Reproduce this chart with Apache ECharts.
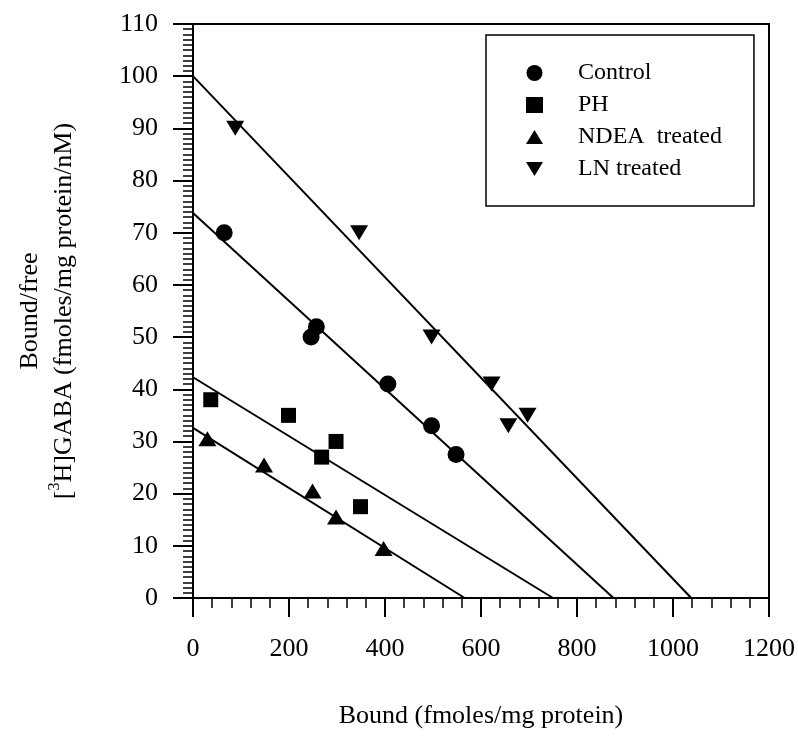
<!DOCTYPE html>
<html><head><meta charset="utf-8">
<script src="https://cdn.jsdelivr.net/npm/echarts@6/dist/echarts.min.js"></script>
<style>html,body{margin:0;padding:0;background:#fff}#c{width:798px;height:740px}</style>
</head><body><div id="c"></div>
<script>
// Tick settings
const xMin = 0, xMax = 1200, xStep = 200;
const yMin = 0, yMax = 110, yStep = 10;

// Scatter data [Bound, Bound/free]
const controlData = [[65,70],[246,50],[257,52],[406,41],[497,33],[548,27.5]];
const phData = [[37,38],[199,35],[298,30],[268,27],[349,17.5]];
const ndeaData = [[30,30.5],[148,25.5],[249,20.5],[298,15.5],[397,9.5]];
const lnData = [[88,90],[346,70],[497,50],[622,41],[657,33],[697,35]];

// Fitted regression lines (end points)
const controlFit = [[0,73.8],[876,0]];
const phFit = [[0,42.3],[750,0]];
const ndeaFit = [[0,32.6],[566,0]];
const lnFit = [[0,100],[1038,0]];

const seriesNames = ['Control','PH','NDEA  treated','LN treated'];

const FONT = '"Liberation Serif", "Times New Roman", serif';
const DOWN_TRI = 'path://M0,0 L18,0 L9,15 Z';
const UP_TRI = 'path://M9,0 L18,15 L0,15 Z';
const chart = echarts.init(document.getElementById('c'), null, {renderer:'canvas'});

function fitLine(data){
  return {type:'line', data:data, symbol:'none', silent:true,
    lineStyle:{color:'#000', width:2}, z:1};
}

chart.setOption({
  animation:false,
  backgroundColor:'#fff',
  grid:{left:193, right:29, top:24, bottom:142, show:true, borderColor:'#000', borderWidth:2, backgroundColor:'transparent'},
  legend:{
    data:[
      {name:seriesNames[0], icon:'circle'},
      {name:seriesNames[1], icon:'rect'},
      {name:seriesNames[2], icon:UP_TRI},
      {name:seriesNames[3], icon:DOWN_TRI}
    ],
    orient:'vertical', left:486, top:35,
    padding:[26,32,25,40],
    itemWidth:17, itemHeight:16, itemGap:8,
    borderColor:'#000', borderWidth:1.5,
    formatter: function(n){ return '{n|' + n + '}'; },
    textStyle:{fontFamily:FONT, fontSize:24, color:'#000', lineHeight:24,
      rich:{n:{fontFamily:FONT, fontSize:24, color:'#000', lineHeight:24, padding:[0,0,0,30]}}},
    selectedMode:false
  },
  xAxis:{
    type:'value', min:xMin, max:xMax, interval:xStep,
    name:'Bound (fmoles/mg protein)', nameLocation:'middle', nameGap:105,
    nameTextStyle:{fontFamily:FONT, fontSize:26, color:'#000'},
    axisLine:{show:true, onZero:false, lineStyle:{color:'#000', width:2}},
    axisTick:{show:true, inside:false, length:19, lineStyle:{color:'#000', width:2}},
    minorTick:{show:true, splitNumber:5, length:10, lineStyle:{color:'#000', width:1.5}},
    axisLabel:{fontFamily:FONT, fontSize:26, color:'#000', margin:38, formatter:function(v){return String(v);}},
    splitLine:{show:false}
  },
  yAxis:{
    type:'value', min:yMin, max:yMax, interval:yStep,
    name:'{t|Bound/free}\n{t|[}{s|3}{t|H]GABA (fmoles/mg protein/nM)}',
    nameLocation:'middle', nameGap:112, nameRotate:90,
    nameTextStyle:{fontFamily:FONT, fontSize:26, color:'#000',
      rich:{
        t:{fontFamily:FONT, fontSize:26, color:'#000', lineHeight:34},
        s:{fontFamily:FONT, fontSize:16, color:'#000', lineHeight:34, verticalAlign:'top'}
      }},
    axisLine:{show:true, onZero:false, lineStyle:{color:'#000', width:2}},
    axisTick:{show:true, inside:false, length:20, lineStyle:{color:'#000', width:2}},
    minorTick:{show:true, splitNumber:10, length:10, lineStyle:{color:'#000', width:1.5}},
    axisLabel:{fontFamily:FONT, fontSize:26, color:'#000', margin:35, formatter:function(v){return String(v);}},
    splitLine:{show:false}
  },
  series:[
    fitLine(controlFit), fitLine(phFit), fitLine(ndeaFit), fitLine(lnFit),
    {name:seriesNames[0], type:'scatter', data:controlData, symbol:'circle', symbolSize:17,
      itemStyle:{color:'#000', opacity:1}, z:3},
    {name:seriesNames[1], type:'scatter', data:phData, symbol:'rect', symbolSize:15,
      itemStyle:{color:'#000', opacity:1}, z:3},
    {name:seriesNames[2], type:'scatter', data:ndeaData, symbol:UP_TRI, symbolSize:[18,15],
      itemStyle:{color:'#000', opacity:1}, z:3},
    {name:seriesNames[3], type:'scatter', data:lnData, symbol:DOWN_TRI, symbolSize:[18,15],
      itemStyle:{color:'#000', opacity:1}, z:3}
  ]
});
</script>
</body></html>
